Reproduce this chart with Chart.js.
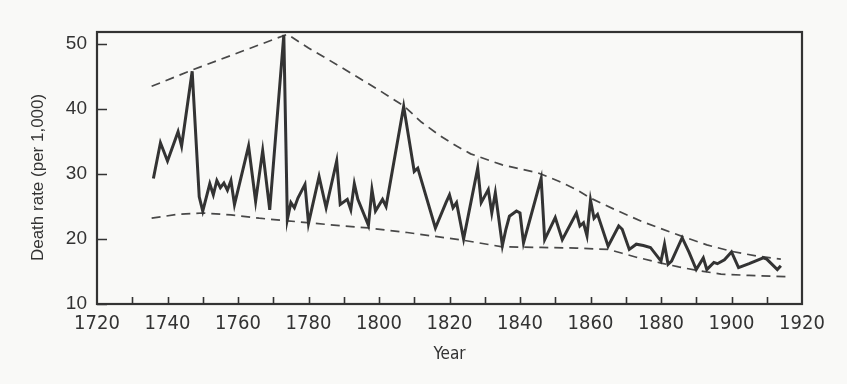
<!DOCTYPE html>
<html>
<head>
<meta charset="utf-8">
<script src="https://cdn.jsdelivr.net/npm/chart.js@4"></script>
<style>
  html, body { margin: 0; padding: 0; background: #f9f9f7; }
  #wrap { width: 847px; height: 384px; }
</style>
</head>
<body>
<div id="wrap"><canvas id="chart" width="847" height="384"></canvas></div>
<script>
// death rate per 1,000
const mainYears = [1736, 1738, 1740, 1743, 1744, 1747, 1749, 1750, 1752, 1753, 1754, 1755, 1756, 1757, 1758, 1759,
  1763, 1765, 1767, 1769, 1773, 1774, 1775, 1776, 1777, 1779, 1780, 1783, 1785, 1788, 1789, 1791, 1792, 1793, 1794,
  1797, 1798, 1799, 1801, 1802, 1807, 1810, 1811, 1816, 1819, 1820, 1821, 1822, 1824, 1828, 1829, 1831, 1832, 1833,
  1835, 1836, 1837, 1839, 1840, 1841, 1846, 1847, 1850, 1852, 1856, 1857, 1858, 1859, 1860, 1861, 1862, 1865, 1868,
  1869, 1871, 1873, 1875, 1877, 1880, 1881, 1882, 1883, 1886, 1888, 1890, 1892, 1893, 1895, 1896, 1898, 1900, 1902,
  1905, 1909, 1910, 1913, 1914];
const mainRates = [29.3, 34.8, 32.0, 36.5, 34.3, 45.8, 26.5, 24.3, 28.5, 26.8, 29.0, 27.9, 28.6, 27.5, 29.0, 25.3,
  34.3, 25.8, 33.6, 24.5, 51.4, 23.0, 25.6, 24.8, 26.3, 28.4, 22.4, 29.6, 24.8, 32.0, 25.3, 26.1, 24.5, 28.5, 26.1,
  22.1, 27.6, 24.3, 26.1, 25.0, 40.4, 30.4, 30.9, 21.7, 25.6, 26.8, 24.8, 25.6, 20.0, 30.9, 25.6, 27.6, 24.0, 27.1,
  19.0, 21.5, 23.5, 24.3, 24.0, 19.4, 29.3, 19.9, 23.3, 19.9, 24.0, 22.0, 22.5, 20.5, 26.0, 23.2, 23.8, 18.9, 22.0,
  21.5, 18.4, 19.2, 19.0, 18.7, 16.6, 19.2, 16.1, 16.6, 20.2, 17.9, 15.3, 17.1, 15.3, 16.4, 16.2, 16.8, 18.0, 15.6,
  16.2, 17.1, 16.9, 15.3, 15.9];

// dashed envelopes above and below the series
const upperYears = [1735.5, 1747, 1774, 1780, 1790, 1800, 1807, 1812, 1817, 1822, 1826, 1835, 1845, 1851, 1856,
  1860, 1867, 1875, 1886, 1893, 1900, 1907, 1914];
const upperRates = [43.5, 46.0, 51.5, 49.4, 46.2, 42.9, 40.5, 38.0, 36.0, 34.3, 33.1, 31.4, 30.2, 28.9, 27.6,
  26.3, 24.5, 22.6, 20.4, 19.1, 18.1, 17.4, 16.9];

const lowerYears = [1735.5, 1743, 1750, 1758, 1766, 1774, 1786, 1797, 1808, 1816, 1824, 1835, 1846, 1856, 1865,
  1869, 1873, 1880, 1885, 1890, 1897, 1905, 1916];
const lowerRates = [23.2, 23.8, 24.0, 23.7, 23.2, 22.8, 22.2, 21.7, 21.0, 20.4, 19.8, 18.8, 18.7, 18.6, 18.4,
  17.8, 17.2, 16.3, 15.7, 15.2, 14.6, 14.4, 14.2];

const yTicks = [10, 20, 30, 40, 50];
const xLabelYears = [1720, 1740, 1760, 1780, 1800, 1820, 1840, 1860, 1880, 1900, 1920];
const xMinorTicks = [1730, 1740, 1750, 1760, 1770, 1780, 1790, 1800, 1810, 1820, 1830, 1840, 1850, 1860, 1870, 1880, 1890, 1900, 1910];

const ink = '#333';
const toPts = (xs, ys) => xs.map((x, i) => ({ x: x, y: ys[i] }));

// frame + inward tick marks like the printed figure
const framePlugin = {
  id: 'frame',
  beforeDraw(chart) {
    const c = chart.ctx;
    c.save();
    c.fillStyle = '#f9f9f7';
    c.fillRect(0, 0, chart.width, chart.height);
    c.restore();
  },
  afterDraw(chart) {
    const { ctx: c, chartArea: a, scales } = chart;
    c.save();
    c.strokeStyle = ink;
    c.lineWidth = 2.2;
    c.strokeRect(a.left, a.top, a.right - a.left, a.bottom - a.top);
    c.lineWidth = 1.6;
    c.beginPath();
    yTicks.forEach(v => {
      const y = Math.round(scales.y.getPixelForValue(v)) + 0.5;
      c.moveTo(a.left, y);
      c.lineTo(a.left + 10, y);
    });
    xMinorTicks.forEach(v => {
      const x = Math.round(scales.x.getPixelForValue(v)) + 0.5;
      c.moveTo(x, a.bottom);
      c.lineTo(x, a.bottom - 7);
    });
    c.stroke();
    c.restore();
  }
};

const dashed = {
  borderColor: '#484848',
  borderWidth: 1.7,
  borderDash: [9, 6],
  pointRadius: 0,
  tension: 0,
  fill: false
};

new Chart(document.getElementById('chart'), {
  type: 'line',
  data: {
    datasets: [
      { data: toPts(mainYears, mainRates), borderColor: '#333', borderWidth: 3, pointRadius: 0,
        borderJoinStyle: 'miter', tension: 0, fill: false },
      Object.assign({ data: toPts(upperYears, upperRates) }, dashed),
      Object.assign({ data: toPts(lowerYears, lowerRates) }, dashed)
    ]
  },
  options: {
    responsive: false,
    animation: false,
    layout: { padding: { top: 32, right: 45, left: 0, bottom: 0 } },
    plugins: { legend: { display: false }, tooltip: { enabled: false } },
    scales: {
      x: {
        type: 'linear',
        min: 1720, max: 1920,
        grid: { display: false, drawTicks: false },
        border: { display: false },
        afterBuildTicks: s => { s.ticks = xLabelYears.map(v => ({ value: v })); },
        afterFit: s => { s.height = 80; },
        ticks: {
          padding: 8, color: ink, maxRotation: 0, autoSkip: false,
          font: { family: "'Liberation Sans Narrow', 'DejaVu Sans Condensed', sans-serif", size: 20 },
          callback: v => String(v)
        },
        title: {
          display: true, text: 'Year', color: ink,
          font: { family: "'Liberation Sans Narrow', 'DejaVu Sans Condensed', sans-serif", size: 17 },
          padding: { top: 0, bottom: 19 }
        }
      },
      y: {
        min: 10, max: 51.85,
        grid: { display: false, drawTicks: false },
        border: { display: false },
        afterBuildTicks: s => { s.ticks = yTicks.map(v => ({ value: v })); },
        afterFit: s => { s.width = 97; },
        ticks: {
          padding: 10, color: ink,
          font: { family: "'Liberation Sans', Arial, sans-serif", size: 19 }
        },
        title: {
          display: true, text: 'Death rate (per 1,000)\u00a0\u00a0\u00a0\u00a0', color: ink,
          font: { family: "'Liberation Sans', Arial, sans-serif", size: 17 },
          padding: { top: 28, bottom: 0 }
        }
      }
    }
  },
  plugins: [framePlugin]
});
</script>
</body>
</html>
